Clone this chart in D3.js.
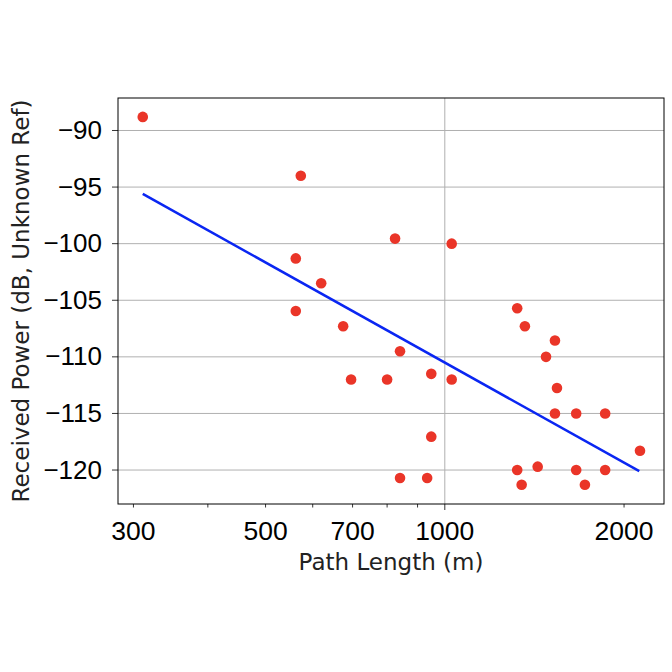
<!DOCTYPE html>
<html>
<head>
<meta charset="utf-8">
<script src="https://cdn.jsdelivr.net/npm/d3@7"></script>
<style>
body { margin: 0; background: #fff; }
</style>
</head>
<body>
<div id="chart"></div>
<script>
// measured data (path length in m, received power in dB)
var pathLength = [311, 573, 562, 562, 620, 675, 696, 825, 841, 800, 841, 934, 949, 949, 1027, 1027,
    1323, 1363, 1531, 1479, 1543, 1531, 1662, 1859, 2127, 1323, 1432, 1662, 1859, 1346, 1719];
var power = [-88.8, -94.0, -101.3, -105.95, -103.5, -107.3, -112.0, -99.55, -109.5, -112.0, -120.7, -120.7, -111.5, -117.05, -100.0, -112.0,
    -105.7, -107.3, -108.55, -110.0, -112.75, -115.0, -115.0, -115.0, -118.3, -120.0, -119.7, -120.0, -120.0, -121.3, -121.3];

// fitted line end points
var fitX = [311, 2121];
var fitY = [-95.6, -120.1];

var xTicks = [300, 400, 500, 600, 700, 800, 900, 1000, 2000];
var xLabels = [300, 500, 700, 1000, 2000];
var yTicks = [-90, -95, -100, -105, -110, -115, -120];

//SVG sizes and margins
var width = 672, height = 672;
var margin = {top: 98, right: 8, bottom: 168, left: 118};

var svg = d3.select("#chart").append("svg")
    .attr("width", width)
    .attr("height", height);

var x = d3.scaleLog().domain([282.6, 2334]).range([margin.left, width - margin.right]);
var y = d3.scaleLinear().domain([-123.0, -87.13]).range([height - margin.bottom, margin.top]);

//grid
svg.append("g")
    .selectAll("line")
    .data(yTicks)
    .enter().append("line")
    .attr("x1", margin.left).attr("x2", width - margin.right)
    .attr("y1", function(d) { return y(d); })
    .attr("y2", function(d) { return y(d); })
    .attr("stroke", "#b0b0b0")
    .attr("stroke-width", 1);

svg.append("line")
    .attr("x1", x(1000)).attr("x2", x(1000))
    .attr("y1", margin.top).attr("y2", height - margin.bottom)
    .attr("stroke", "#b0b0b0")
    .attr("stroke-width", 1);

//fit line
svg.append("path")
    .datum(d3.zip(fitX, fitY))
    .attr("d", d3.line().x(function(d) { return x(d[0]); }).y(function(d) { return y(d[1]); }))
    .attr("fill", "none")
    .attr("stroke", "#0a26f2")
    .attr("stroke-width", 2.5);

//points
svg.append("g")
    .selectAll("circle")
    .data(d3.zip(pathLength, power))
    .enter().append("circle")
    .attr("cx", function(d) { return x(d[0]); })
    .attr("cy", function(d) { return y(d[1]); })
    .attr("r", 5.3)
    .attr("fill", "#ea3528");

//frame
svg.append("rect")
    .attr("x", margin.left).attr("y", margin.top)
    .attr("width", width - margin.left - margin.right)
    .attr("height", height - margin.top - margin.bottom)
    .attr("fill", "none")
    .attr("stroke", "#000")
    .attr("stroke-width", 1);

//x ticks
var bottom = height - margin.bottom;
svg.append("g")
    .selectAll("line")
    .data(xTicks)
    .enter().append("line")
    .attr("x1", function(d) { return x(d); })
    .attr("x2", function(d) { return x(d); })
    .attr("y1", bottom)
    .attr("y2", function(d) { return d == 1000 ? bottom + 6 : bottom + 3.5; })
    .attr("stroke", "#000")
    .attr("stroke-width", 0.8);

svg.append("g")
    .selectAll("text")
    .data(xLabels)
    .enter().append("text")
    .attr("x", function(d) { return x(d); })
    .attr("y", bottom + 36)
    .attr("text-anchor", "middle")
    .style("font-family", "Liberation Sans, Arial, sans-serif")
    .style("font-size", "26.5px")
    .text(function(d) { return d; });

//y ticks
svg.append("g")
    .selectAll("line")
    .data(yTicks)
    .enter().append("line")
    .attr("x1", margin.left - 6).attr("x2", margin.left)
    .attr("y1", function(d) { return y(d); })
    .attr("y2", function(d) { return y(d); })
    .attr("stroke", "#000")
    .attr("stroke-width", 0.8);

svg.append("g")
    .selectAll("text")
    .data(yTicks)
    .enter().append("text")
    .attr("x", margin.left - 16)
    .attr("y", function(d) { return y(d) + 8.5; })
    .attr("text-anchor", "end")
    .style("font-family", "Liberation Sans, Arial, sans-serif")
    .style("font-size", "26px")
    .text(function(d) { return "\u2212" + Math.abs(d); });

//axis titles
svg.append("text")
    .attr("x", (margin.left + width - margin.right) / 2)
    .attr("y", 570)
    .attr("text-anchor", "middle")
    .style("font-family", "DejaVu Sans, sans-serif")
    .style("font-size", "23px")
    .attr("fill", "#222")
    .text("Path Length (m)");

svg.append("text")
    .attr("transform", "translate(29," + ((margin.top + bottom) / 2) + ") rotate(-90)")
    .attr("text-anchor", "middle")
    .style("font-family", "DejaVu Sans, sans-serif")
    .style("font-size", "23px")
    .attr("fill", "#222")
    .text("Received Power (dB, Unknown Ref)");
</script>
</body>
</html>
